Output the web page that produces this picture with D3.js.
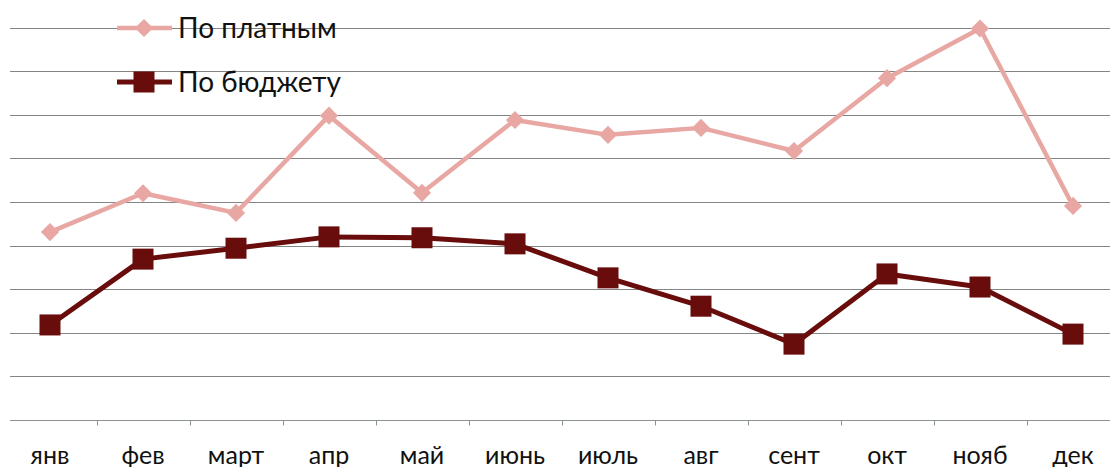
<!DOCTYPE html>
<html>
<head>
<meta charset="utf-8">
<script src="https://cdn.jsdelivr.net/npm/d3@7/dist/d3.min.js"></script>
<style>
  html, body { margin: 0; padding: 0; background: #fff; }
  svg { display: block; }
  text { font-family: Lato, "Open Sans", sans-serif; fill: #111; }
</style>
</head>
<body>
<svg id="chart" width="1110" height="467"></svg>
<script>
// Monthly figures for two groups
const months = ["янв", "фев", "март", "апр", "май", "июнь", "июль", "авг", "сент", "окт", "нояб", "дек"];
const paid   = [43.1, 52.0, 47.5, 69.8, 52.1, 68.8, 65.4, 67.0, 61.7, 78.4, 89.8, 49.1];
const budget = [21.8, 36.9, 39.4, 42.0, 41.8, 40.4, 32.6, 26.1, 17.4, 33.5, 30.5, 19.7];
const seriesNames = ["По платным", "По бюджету"];
const gridValues = [0, 10, 20, 30, 40, 50, 60, 70, 80, 90];

const svg = d3.select("#chart");
const W = 1110;

const x = d3.scaleBand().domain(months).range([3.5, 1119.5]);
const y = d3.scaleLinear().domain([0, 90]).range([420, 27.6]);
const cx = m => x(m) + x.bandwidth() / 2;

const pinkColor = "#e8a7a3";
const darkColor = "#690c0c";

// horizontal gridlines
svg.append("g")
  .selectAll("line")
  .data(gridValues.slice(1))
  .join("line")
  .attr("x1", 10).attr("x2", W)
  .attr("y1", d => Math.round(y(d)) + 0.5)
  .attr("y2", d => Math.round(y(d)) + 0.5)
  .attr("stroke", "#858585")
  .attr("stroke-width", 1.2);

// category axis
const xAxis = d3.axisBottom(x).tickSize(0).tickFormat(d => d);
const axisG = svg.append("g")
  .attr("transform", `translate(0,${Math.round(y(0)) + 0.5})`)
  .call(xAxis);
axisG.select(".domain").remove();
axisG.selectAll(".tick text")
  .attr("y", 43)
  .attr("dy", 0)
  .style("font-size", "25px")
  .style("font-family", "Lato, 'Open Sans', sans-serif")
  .attr("fill", "#111");

axisG.append("line")
  .attr("x1", 10).attr("x2", W)
  .attr("stroke", "#8a9296").attr("stroke-width", 1.2);

// tick marks between categories
axisG.selectAll(".sep")
  .data(months.slice(1))
  .join("line")
  .attr("class", "sep")
  .attr("x1", d => Math.round(x(d)) + 0.5)
  .attr("x2", d => Math.round(x(d)) + 0.5)
  .attr("y1", 0).attr("y2", 5)
  .attr("stroke", "#8a9296").attr("stroke-width", 1);

const line = d3.line().x((d, i) => cx(months[i])).y(d => y(d));

// paid series
svg.append("path")
  .datum(paid)
  .attr("d", line)
  .attr("fill", "none")
  .attr("stroke", pinkColor)
  .attr("stroke-width", 4.5)
  .attr("stroke-linejoin", "round");

const diamond = d3.symbol().type(d3.symbolDiamond2).size(210);
svg.append("g")
  .selectAll("path")
  .data(paid)
  .join("path")
  .attr("d", diamond)
  .attr("transform", (d, i) => `translate(${cx(months[i])},${y(d)})`)
  .attr("fill", pinkColor);

// budget series
svg.append("path")
  .datum(budget)
  .attr("d", line)
  .attr("fill", "none")
  .attr("stroke", darkColor)
  .attr("stroke-width", 5)
  .attr("stroke-linejoin", "round");

const sq = 21;
svg.append("g")
  .selectAll("rect")
  .data(budget)
  .join("rect")
  .attr("x", (d, i) => cx(months[i]) - sq / 2)
  .attr("y", d => y(d) - sq / 2)
  .attr("width", sq).attr("height", sq)
  .attr("fill", darkColor);

// legend
const legend = svg.append("g");
const legendRows = [
  { name: seriesNames[0], color: pinkColor, yc: 28, width: 4.5, marker: "diamond" },
  { name: seriesNames[1], color: darkColor, yc: 82, width: 5, marker: "square" }
];
legendRows.forEach(r => {
  legend.append("line")
    .attr("x1", 117).attr("x2", 172)
    .attr("y1", r.yc).attr("y2", r.yc)
    .attr("stroke", r.color).attr("stroke-width", r.width);
  if (r.marker === "diamond") {
    legend.append("path").attr("d", diamond)
      .attr("transform", `translate(144,${r.yc})`).attr("fill", r.color);
  } else {
    legend.append("rect")
      .attr("x", 144 - sq / 2).attr("y", r.yc - sq / 2)
      .attr("width", sq).attr("height", sq).attr("fill", r.color);
  }
  legend.append("text")
    .attr("x", 178).attr("y", r.yc + 10)
    .style("font-size", "28px")
    .text(r.name);
});
</script>
</body>
</html>
